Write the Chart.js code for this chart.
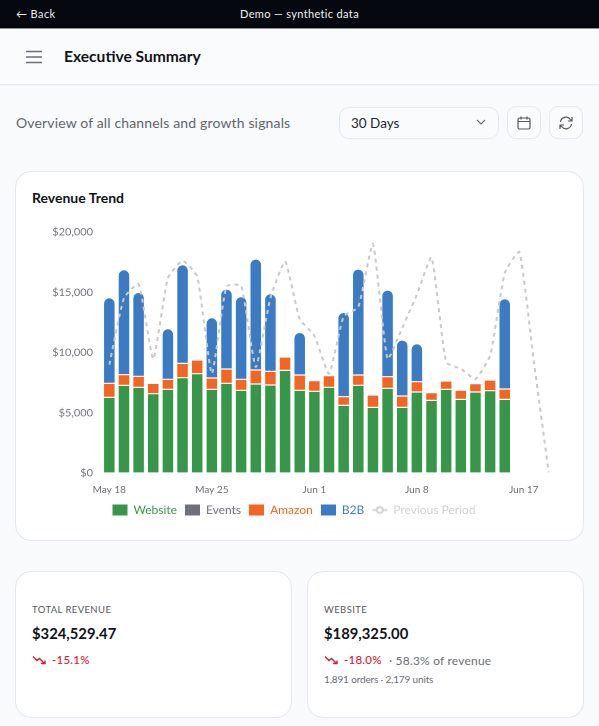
<!DOCTYPE html>
<html>
<head>
<meta charset="utf-8">
<script src="https://cdn.jsdelivr.net/npm/chart.js@4"></script>
<style>
    * { box-sizing: border-box; }
    html, body { margin: 0; height: 726px; overflow: hidden; background: #f8fafc; font-family: Lato, sans-serif; color: #111318; }
    .abs { position: absolute; white-space: nowrap; }
    .topbar { left: 0; top: 0; width: 599px; height: 29px; background: #05080f; border-bottom: 1px solid #8d9196; }
    .header { left: 0; top: 29px; width: 599px; height: 56px; background: #fafbfd; border-bottom: 1px solid #e8ebef; }
    .btn { top: 106px; width: 34px; height: 33px; border: 1px solid #e6e8ec; border-radius: 9px; background: #fafbfd; display: flex; align-items: center; justify-content: center; }
    .card { background: #fff; border: 1px solid #e4e7eb; border-radius: 16px; }
    .label { font-size: 9.5px; letter-spacing: .4px; color: #55585e; }
    .money { font-size: 14.8px; font-weight: 700; }
    .red { color: #d9202f; font-size: 11.5px; font-weight: 500; letter-spacing: .25px; }
    .muted { color: #6b6e74; font-size: 12px; letter-spacing: .2px; }
</style>
</head>
<body>
<div class="abs topbar"></div>
<div class="abs" style="left:16px;top:7px;color:#e8eaee;font-size:11px;letter-spacing:.4px">← Back</div>
<div class="abs" style="left:240px;top:7px;color:#f2f3f5;font-size:11px;letter-spacing:.35px">Demo — synthetic data</div>
<div class="abs header"></div>
<svg class="abs" style="left:26px;top:50px" width="16" height="14"><path d="M0 1.5h16M0 7h16M0 12.5h16" stroke="#6b6e74" stroke-width="1.5"/></svg>
<div class="abs" style="left:64px;top:47px;font-size:15.6px;font-weight:700">Executive Summary</div>

<div class="abs" style="left:16px;top:114px;font-size:14px;color:#62656b;letter-spacing:.15px">Overview of all channels and growth signals</div>
<div class="abs" style="left:339px;top:107px;width:160px;height:32px;border:1px solid #e6e8ec;border-radius:10px;background:#fafbfd"></div>
<div class="abs" style="left:351px;top:115px;font-size:13.5px;color:#24262b">30 Days</div>
<svg class="abs" style="left:476px;top:119px" width="10" height="7"><path d="M1 1l4 4 4-4" fill="none" stroke="#6b6e74" stroke-width="1.1"/></svg>
<div class="abs btn" style="left:507px"><svg width="16" height="16" viewBox="0 0 16 16" fill="none" stroke="#55585e" stroke-width="1.2"><rect x="2" y="3" width="12" height="11" rx="1.5"/><path d="M2 6.5h12M5 1.5v3M11 1.5v3"/></svg></div>
<div class="abs btn" style="left:549px"><svg width="16" height="16" viewBox="0 0 16 16" fill="none" stroke="#55585e" stroke-width="1.2"><path d="M2.5 7a5.5 5.5 0 0 1 9.8-2.6L14 6M14 2v4h-4M13.5 9a5.5 5.5 0 0 1-9.8 2.6L2 10M2 14v-4h4"/></svg></div>

<div class="abs card" style="left:15px;top:171px;width:569px;height:370px"></div>
<div class="abs" style="left:32px;top:189px;font-size:14px;font-weight:700">Revenue Trend</div>
<div class="abs" style="left:32px;top:222px;width:536px;height:304px"><canvas id="revenueChart"></canvas></div>

<div class="abs card" style="left:15px;top:571px;width:277px;height:147px"></div>
<div class="abs label" style="left:32px;top:604px">TOTAL REVENUE</div>
<div class="abs money" style="left:32px;top:624px">$324,529.47</div>
<svg class="abs" style="left:32px;top:655px" width="14" height="10" fill="none" stroke="#d9202f" stroke-width="1.4"><path d="M1 1.5l4 4 2.5-2 5 5M9 8.5h4v-3"/></svg>
<div class="abs red" style="left:52px;top:653px">-15.1%</div>

<div class="abs card" style="left:307px;top:571px;width:277px;height:147px"></div>
<div class="abs label" style="left:324px;top:604px">WEBSITE</div>
<div class="abs money" style="left:324px;top:624px">$189,325.00</div>
<svg class="abs" style="left:324px;top:655px" width="14" height="10" fill="none" stroke="#d9202f" stroke-width="1.4"><path d="M1 1.5l4 4 2.5-2 5 5M9 8.5h4v-3"/></svg>
<div class="abs red" style="left:344px;top:653px">-18.0%</div>
<div class="abs muted" style="left:389px;top:653px">· 58.3% of revenue</div>
<div class="abs muted" style="left:324px;top:673px;font-size:10px;letter-spacing:-.15px">1,891 orders · 2,179 units</div>

<script>
const categories = ['May 18','May 19','May 20','May 21','May 22','May 23','May 24','May 25','May 26','May 27','May 28','May 29','May 30','May 31','Jun 1','Jun 2','Jun 3','Jun 4','Jun 5','Jun 6','Jun 7','Jun 8','Jun 9','Jun 10','Jun 11','Jun 12','Jun 13','Jun 14','Jun 15','Jun 16','Jun 17'];
const websiteValues = [6279,7275,7109,6583,6943,7911,8243,6943,7441,6860,7385,7302,8519,6860,6777,7109,5615,7275,5449,7026,5449,6721,6030,6943,6113,6721,6832,6113];
const eventsValues = [0,0,0,0,0,0,0,0,0,0,0,0,0,0,0,0,0,0,0,0,0,0,0,0,0,0,0,0];
const amazonValues = [1162,885,913,857,830,1189,1134,940,1189,913,1162,1134,1106,1272,885,968,719,857,1023,968,940,857,636,692,747,692,885,857];
const b2bValues = [7109,8713,6970,0,4204,8187,0,5006,6638,6860,9211,6445,0,3540,0,0,6998,8796,0,7192,4647,3153,0,0,0,0,0,7496];
const previousValues = [8990,14522,15683,9460,16181,17619,16319,8243,15490,15545,8796,14522,17564,12779,11396,8243,13000,13775,19030,9460,12032,14798,17896,9183,8658,7800,9736,16596,18339,9128,55];
const yTicks = [0,5000,10000,15000,20000];
const xTickLabels = ['May 18','May 25','Jun 1','Jun 8','Jun 17'];

const colors = { website: '#38964a', events: '#6f7079', amazon: '#f26522', b2b: '#3a7bc4', previous: '#c9c9c9' };

function swatch(color) {
    const c = document.createElement('canvas');
    c.width = 15; c.height = 11;
    const g = c.getContext('2d');
    g.fillStyle = color;
    g.fillRect(0, 0, 15, 11);
    return c;
}

function lineSwatch(color) {
    const c = document.createElement('canvas');
    c.width = 15; c.height = 11;
    const g = c.getContext('2d');
    g.strokeStyle = color;
    g.lineWidth = 1.5;
    g.beginPath();
    g.moveTo(0, 5.5); g.lineTo(4.5, 5.5);
    g.moveTo(10.5, 5.5); g.lineTo(15, 5.5);
    g.stroke();
    g.beginPath();
    g.arc(7.5, 5.5, 3, 0, Math.PI * 2);
    g.stroke();
    return c;
}

function barSet(label, data, color, radius) {
    return {
        type: 'bar',
        label: label,
        data: data,
        backgroundColor: color,
        borderColor: '#ffffff',
        borderWidth: 0.6,
        borderRadius: radius ? { topLeft: radius, topRight: radius } : 0,
        borderSkipped: false,
        stack: 'revenue',
        barPercentage: 0.8,
        categoryPercentage: 1,
        order: 2
    };
}

new Chart(document.getElementById('revenueChart'), {
    data: {
        labels: categories,
        datasets: [
            barSet('Website', websiteValues, colors.website),
            barSet('Events', eventsValues, colors.events),
            barSet('Amazon', amazonValues, colors.amazon),
            barSet('B2B', b2bValues, colors.b2b, 6),
            {
                type: 'line',
                label: 'Previous Period',
                data: previousValues,
                borderColor: colors.previous,
                borderWidth: 2,
                borderDash: [4, 4],
                pointRadius: 0,
                tension: 0.15,
                order: 1
            }
        ]
    },
    options: {
        responsive: true,
        maintainAspectRatio: false,
        animation: false,
        devicePixelRatio: 2,
        layout: { padding: { top: 10, right: 12, bottom: 0, left: 0 } },
        plugins: {
            tooltip: { enabled: false },
            legend: {
                position: 'bottom',
                labels: {
                    usePointStyle: true,
                    pointStyleWidth: 15,
                    padding: 8,
                    font: { family: 'Lato', size: 12 },
                    generateLabels(chart) {
                        return chart.data.datasets.map((ds, i) => ({
                            text: ds.label,
                            fontColor: ds.type === 'line' ? '#cfd1d4' : ds.backgroundColor,
                            pointStyle: ds.type === 'line' ? lineSwatch(ds.borderColor) : swatch(ds.backgroundColor),
                            datasetIndex: i,
                            lineWidth: 0
                        }));
                    }
                }
            }
        },
        scales: {
            x: {
                stacked: true,
                grid: { display: false },
                border: { display: false },
                afterBuildTicks(scale) {
                    // the last label sits left of its own point in the reference
                    scale.ticks = [0, 7, 14, 21, 28.3].map(value => ({ value: value }));
                },
                afterFit(scale) { scale.height -= 3; },
                ticks: {
                    autoSkip: false,
                    maxRotation: 0,
                    padding: 3,
                    color: '#6b6e74',
                    font: { family: 'Lato', size: 10 },
                    callback(value, index) { return xTickLabels[index]; }
                }
            },
            y: {
                stacked: true,
                min: 0,
                max: 20000,
                grid: { display: false },
                border: { display: false },
                afterFit(scale) { scale.width = 70; },
                afterBuildTicks(scale) {
                    scale.ticks = yTicks.map(value => ({ value: value }));
                },
                ticks: {
                    padding: 1,
                    color: '#73767c',
                    font: { family: 'Lato', size: 11 },
                    callback(value) { return '$' + value.toLocaleString('en-US'); }
                }
            }
        }
    }
});
</script>
</body>
</html>
